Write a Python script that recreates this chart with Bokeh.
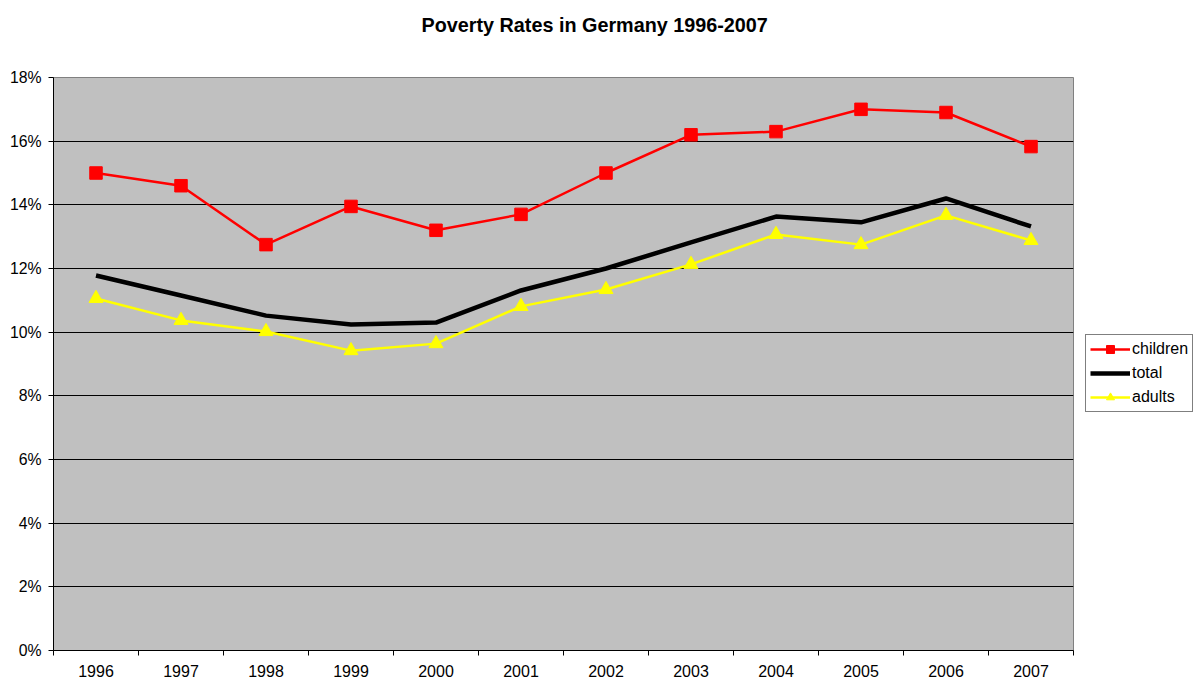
from bokeh.plotting import figure
from bokeh.models import (FixedTicker, Range1d, Legend, LegendItem, Title,
                          CustomJSTickFormatter, PrintfTickFormatter)
from bokeh.embed import file_html
from bokeh.resources import INLINE

years = ["1996", "1997", "1998", "1999", "2000", "2001",
         "2002", "2003", "2004", "2005", "2006", "2007"]
children = [15.0, 14.6, 12.75, 13.95, 13.2, 13.7, 15.0, 16.2, 16.3, 17.0, 16.9, 15.83]
total = [11.78, 11.15, 10.52, 10.24, 10.3, 11.31, 12.0, 12.82, 13.63, 13.45, 14.2, 13.32]
adults = [11.06, 10.37, 10.02, 9.42, 9.64, 10.81, 11.34, 12.13, 13.07, 12.75, 13.67, 12.88]
y_ticks = [0, 2, 4, 6, 8, 10, 12, 14, 16, 18]
title_text = "Poverty Rates in Germany 1996-2007"

FONT = "Liberation Sans"
n = len(years)
xs = [i + 0.5 for i in range(n)]

p = figure(frame_width=1020, frame_height=573,
           x_range=Range1d(0, n), y_range=Range1d(0, 18),
           output_backend="svg", toolbar_location=None,
           min_border_left=53, min_border_top=77,
           min_border_right=123, min_border_bottom=34,
           background_fill_color="#C0C0C0", border_fill_color="white")
p.title = None

p.outline_line_color = "#808080"
p.outline_line_width = 1

# spacer panel + title (later added = further from the frame)
spacer = Title(text=" ", text_font_size="10px", standoff=29, text_color="white")
p.add_layout(spacer, "above")
main_title = Title(text=title_text, align="left", offset=368, standoff=0,
                   text_font=FONT, text_font_size="19.8px",
                   text_font_style="bold", text_color="black")
p.add_layout(main_title, "above")

# grid
p.xgrid.grid_line_color = None
p.ygrid.ticker = FixedTicker(ticks=y_ticks)
p.ygrid.grid_line_color = "black"
p.ygrid.grid_line_width = 1

# y axis
p.yaxis.ticker = FixedTicker(ticks=y_ticks)
p.yaxis.formatter = PrintfTickFormatter(format="%d%%")
p.yaxis.axis_line_color = "black"
p.yaxis.major_tick_line_color = "black"
p.yaxis.major_tick_out = 5
p.yaxis.major_tick_in = 0
p.yaxis.minor_tick_line_color = None
p.yaxis.major_label_text_font = FONT
p.yaxis.major_label_text_font_size = "15.8px"
p.yaxis.major_label_text_color = "black"
p.yaxis.major_label_standoff = 7

# x axis
p.xaxis.ticker = FixedTicker(ticks=xs, minor_ticks=list(range(n + 1)))
p.xaxis.formatter = CustomJSTickFormatter(args=dict(labels=years),
                                          code="return labels[Math.floor(tick)];")
p.xaxis.axis_line_color = "black"
p.xaxis.major_tick_out = 0
p.xaxis.major_tick_in = 0
p.xaxis.minor_tick_out = 5
p.xaxis.minor_tick_in = 0
p.xaxis.minor_tick_line_color = "black"
p.xaxis.major_label_text_font = FONT
p.xaxis.major_label_text_font_size = "16px"
p.xaxis.major_label_text_color = "black"
p.xaxis.major_label_standoff = 9

# series
c_line = p.line(xs, children, line_color="#FF0000", line_width=2.5)
c_mark = p.scatter(xs, children, marker="square", size=12.5,
                   fill_color="#FF0000", line_color="#FF0000")
t_line = p.line(xs, total, line_color="black", line_width=4.5)
a_line = p.line(xs, adults, line_color="#FFFF00", line_width=2.5)
a_mark = p.scatter(xs, adults, marker="triangle", size=14,
                   fill_color="#FFFF00", line_color="#FFFF00")

legend = Legend(items=[
    LegendItem(label="children", renderers=[c_line, c_mark]),
    LegendItem(label="total", renderers=[t_line]),
    LegendItem(label="adults", renderers=[a_line, a_mark]),
], location=(12, 238))
legend.border_line_color = "black"
legend.border_line_width = 1
legend.background_fill_color = "white"
legend.background_fill_alpha = 1
legend.label_text_font = FONT
legend.label_text_font_size = "16px"
legend.label_text_color = "black"
legend.glyph_width = 40
legend.glyph_height = 20
legend.label_standoff = 2
legend.padding = 4
legend.spacing = 4
legend.margin = 0
p.add_layout(legend, "right")

open("out.html", "w").write(file_html(p, INLINE))
